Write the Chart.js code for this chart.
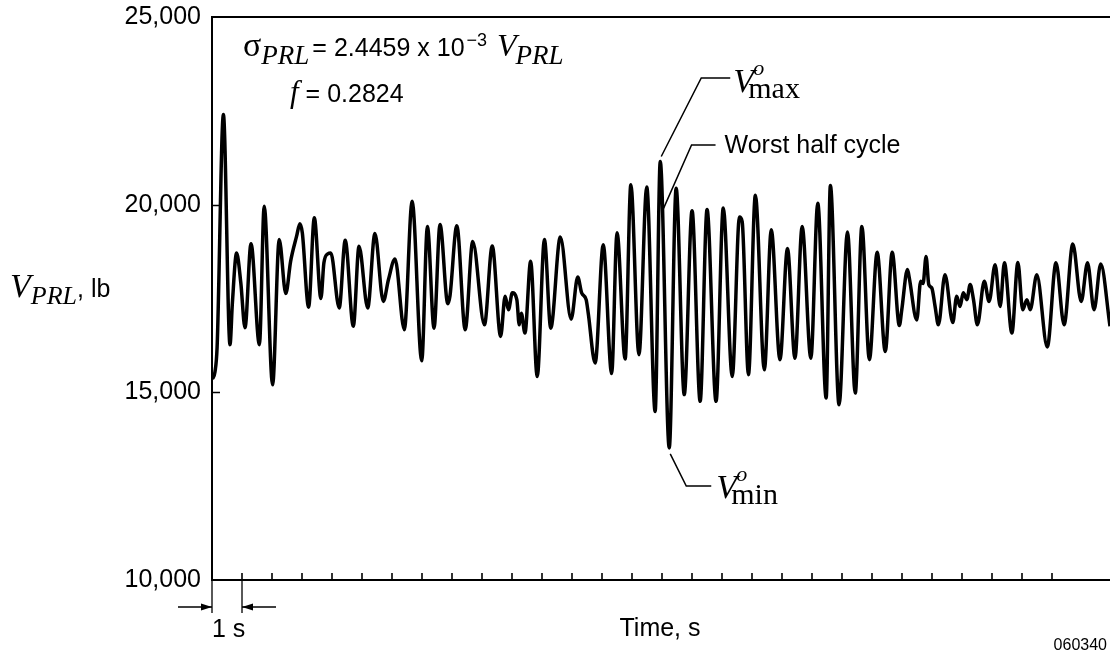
<!DOCTYPE html>
<html>
<head>
<meta charset="utf-8">
<script src="https://cdn.jsdelivr.net/npm/chart.js@4.4.1/dist/chart.umd.min.js"></script>
<style>
body{margin:0;background:#fff;}
#wrap{position:relative;width:1110px;height:656px;}
</style>
</head>
<body>
<div id="wrap"><canvas id="myChart"></canvas></div>
<script>
// time (s) and pitch-link load (lb)
const timeValues=[0.01,0.10,0.17,0.38,0.60,0.68,0.82,0.96,1.10,1.30,
1.58,1.74,2.02,2.24,2.46,2.62,2.82,2.93,3.01,3.22,
3.41,3.63,3.73,3.86,3.96,4.24,4.44,4.71,4.90,5.19,
5.43,5.71,5.88,6.10,6.41,6.67,6.99,7.18,7.40,7.60,
7.86,7.93,8.16,8.44,8.69,9.08,9.34,9.62,9.77,9.88,
10.01,10.16,10.24,10.31,10.43,10.62,10.84,11.08,11.29,11.61,
11.97,12.19,12.32,12.47,12.54,12.77,13.04,13.32,13.50,13.77,
13.96,14.23,14.49,14.77,14.94,15.24,15.47,15.74,16.00,16.27,
16.50,16.80,17.04,17.34,17.58,17.67,17.88,18.11,18.41,18.64,
18.93,19.18,19.43,19.67,19.96,20.19,20.47,20.61,20.90,21.18,
21.44,21.66,21.91,22.17,22.44,22.67,22.91,22.99,23.18,23.24,
23.49,23.62,23.70,23.80,23.89,23.99,24.10,24.21,24.43,24.69,
24.82,24.93,25.04,25.16,25.27,25.38,25.51,25.74,25.90,26.10,
26.27,26.41,26.66,26.86,27.02,27.16,27.27,27.49,27.84,28.13,
28.40,28.69,28.97,29.18,29.40,29.62,29.93];
const loadValues=[15350,15550,16200,22400,16270,17390,18710,17920,16720,18960,
16270,19960,15200,19070,17630,18490,19160,19490,19250,17270,
19650,17500,18450,18690,18710,17250,19050,16760,18890,17250,
19230,17420,18000,18550,16670,20090,15840,19420,16710,19470,
17360,17560,19440,16670,19020,16800,18900,16490,17560,17200,
17650,17470,16800,17110,16580,18490,15420,19070,16710,19140,
16950,18070,17650,17470,17110,15780,18930,15500,19250,15890,
20530,16000,20470,14490,21150,13520,20440,14940,19840,14760,
19870,14760,19910,15420,19670,19550,15470,20250,15600,19330,
15870,18830,15910,19420,15910,20040,14850,20510,14670,19270,
14980,19420,15870,18730,16090,18730,16780,17200,18270,18050,
16930,17960,17900,18620,17870,17780,17290,16800,18130,16860,
17560,17290,17650,17470,17870,17470,16800,17960,17420,18400,
17290,18450,16580,18460,17200,17470,17200,18130,16210,18450,
16800,18950,17420,18450,17200,18420,16760];
const yTickValues=[10000,15000,20000,25000];
const yTickLabels=["10,000","15,000","20,000","25,000"];
const tMax=29.93;
const vMax={t:14.94,v:21150};
const vMin={t:15.24,v:13520};
const worst={t:15.05,v:19900};

const sans='"Liberation Sans", Arial, Helvetica, sans-serif';
const serif='"Liberation Serif", "Times New Roman", serif';

function runs(ctx,x,y,parts){
  // parts: [text, font, dy, extra gap]
  for(const p of parts){
    ctx.font=p[1];
    ctx.fillText(p[0],x,y+(p[2]||0));
    x+=ctx.measureText(p[0]).width+(p[3]||0);
  }
  return x;
}
function arrow(ctx,x1,x2,y){
  ctx.beginPath();ctx.moveTo(x1,y);ctx.lineTo(x2,y);ctx.stroke();
  const d=x2>x1?-1:1;
  ctx.beginPath();ctx.moveTo(x2,y);ctx.lineTo(x2+d*11,y-3.5);ctx.lineTo(x2+d*11,y+3.5);ctx.closePath();ctx.fill();
}
// V with superscript o and roman subscript
function vLabel(ctx,x,y,sub){
  ctx.font='italic 34px '+serif;ctx.fillText('V',x,y);
  ctx.font='italic 22px '+serif;ctx.fillText('o',x+20,y-17);
  ctx.font='30px '+serif;ctx.fillText(sub,x+15,y+6);
}

const extras={
  id:'extras',
  afterDraw(chart){
    const ctx=chart.ctx, xs=chart.scales.x, ys=chart.scales.y, a=chart.chartArea;
    ctx.save();
    ctx.strokeStyle='#000';ctx.fillStyle='#000';
    // inward tick marks
    ctx.lineWidth=1.6;
    ctx.beginPath();
    xs.ticks.forEach(t=>{
      if(t.value<=0||!Number.isInteger(t.value)) return;
      const px=Math.round(xs.getPixelForValue(t.value));
      ctx.moveTo(px,a.bottom);ctx.lineTo(px,a.bottom-7);
    });
    ys.ticks.forEach(t=>{
      if(t.value<=ys.min||t.value>=ys.max) return;
      const py=Math.round(ys.getPixelForValue(t.value))+0.5;
      ctx.moveTo(a.left,py);ctx.lineTo(a.left+8,py);
    });
    ctx.stroke();

    // 1 s marker
    const p0=xs.getPixelForValue(0), p1=xs.getPixelForValue(1);
    ctx.lineWidth=1.3;
    ctx.beginPath();
    ctx.moveTo(p0,a.bottom);ctx.lineTo(p0,a.bottom+33);
    ctx.moveTo(p1,a.bottom);ctx.lineTo(p1,a.bottom+33);
    ctx.stroke();
    arrow(ctx,p0-34,p0,a.bottom+27);
    arrow(ctx,p1+34,p1,a.bottom+27);

    ctx.textBaseline='alphabetic';ctx.textAlign='left';
    ctx.font='25px '+sans;
    ctx.fillText('1 s',p0,637);
    ctx.textAlign='center';
    ctx.fillText('Time, s',660,636);
    ctx.font='16px '+sans;ctx.textAlign='right';
    ctx.fillText('060340',1107,650);
    ctx.textAlign='left';

    // y axis title
    runs(ctx,10,297,[['V','italic 34px '+serif],['PRL','italic 26px '+serif,7],[', lb','25px '+sans]]);

    // equations
    let x=runs(ctx,243,56,[['\u03c3','34px '+serif],['PRL','italic 27px '+serif,8,3],['= 2.4459 x 10','25px '+sans,0,2]]);
    x=runs(ctx,x,56,[['\u22123','18px '+sans,-10,10]]);
    runs(ctx,x,56,[['V','italic 32px '+serif,0,-1],['PRL','italic 27px '+serif,8]]);
    runs(ctx,290,102,[['f','italic 31px '+serif,0,7],['= 0.2824','25px '+sans]]);

    // leaders
    ctx.lineWidth=1.5;
    const mx=xs.getPixelForValue(vMax.t), my=ys.getPixelForValue(vMax.v);
    ctx.beginPath();ctx.moveTo(mx+1,my-5);ctx.lineTo(mx+41,78);ctx.lineTo(mx+70,78);ctx.stroke();
    vLabel(ctx,mx+73,92,'max');

    const wx=xs.getPixelForValue(worst.t), wy=ys.getPixelForValue(worst.v);
    ctx.beginPath();ctx.moveTo(wx,wy);ctx.lineTo(wx+28,145);ctx.lineTo(wx+52,145);ctx.stroke();
    ctx.font='25px '+sans;ctx.textBaseline='middle';
    ctx.fillText('Worst half cycle',wx+61,146);
    ctx.textBaseline='alphabetic';

    const nx=xs.getPixelForValue(vMin.t), ny=ys.getPixelForValue(vMin.v);
    ctx.beginPath();ctx.moveTo(nx+1,ny+6);ctx.lineTo(nx+17,486);ctx.lineTo(nx+42,486);ctx.stroke();
    vLabel(ctx,nx+47,498,'min');
    ctx.restore();
  }
};

const pts=timeValues.map((t,i)=>({x:t,y:loadValues[i]}));

new Chart("myChart",{
  type:"line",
  data:{datasets:[{
    data:pts,
    borderColor:"#000",
    borderWidth:3.5,
    pointRadius:0,
    cubicInterpolationMode:"monotone",
    fill:false
  }]},
  options:{
    responsive:true,
    maintainAspectRatio:false,
    animation:false,
    events:[],
    layout:{padding:{top:17,left:0,right:0,bottom:0}},
    plugins:{legend:{display:false},tooltip:{enabled:false}},
    scales:{
      x:{
        type:"linear",position:"bottom",min:0,max:tMax,
        ticks:{display:false,stepSize:1},
        grid:{display:false,drawTicks:false},
        border:{display:true,color:"#000",width:2},
        afterFit(s){s.height=76;s.paddingLeft=0;s.paddingRight=0;}
      },
      x2:{
        type:"linear",position:"top",min:0,max:tMax,
        ticks:{display:false},
        grid:{display:false,drawTicks:false},
        border:{display:true,color:"#000",width:2},
        afterFit(s){s.height=0;s.paddingLeft=0;s.paddingRight=0;}
      },
      y:{
        type:"linear",position:"left",min:10000,max:25000,
        ticks:{stepSize:5000,color:"#000",padding:11,font:{family:sans,size:25},
          callback:v=>yTickLabels[yTickValues.indexOf(v)]},
        grid:{display:false,drawTicks:false},
        border:{display:true,color:"#000",width:2},
        afterFit(s){s.width=212;s.paddingTop=0;s.paddingBottom=0;}
      }
    }
  },
  plugins:[extras]
});
</script>
</body>
</html>
